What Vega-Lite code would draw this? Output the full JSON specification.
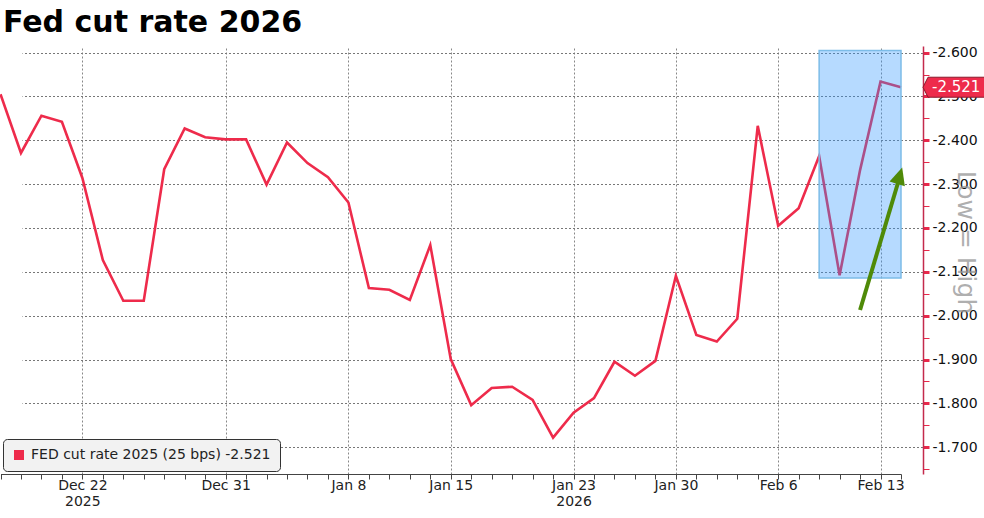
{
  "$schema": "https://vega.github.io/schema/vega-lite/v6.json",
  "width": 923,
  "height": 428,
  "autosize": {"type": "none"},
  "padding": {"left": 0, "top": 46, "right": 61, "bottom": 44},
  "background": "white",
  "title": {
    "text": "Fed cut rate 2026",
    "anchor": "start",
    "frame": "group",
    "font": "DejaVu Sans",
    "fontSize": 30,
    "fontWeight": "bold",
    "color": "#000000",
    "baseline": "alphabetic",
    "offset": 14,
    "dx": 3,
    "dy": 30
  },
  "datasets": {
    "main": [
      {"date": "2025-12-16", "value": -2.505},
      {"date": "2025-12-17", "value": -2.371},
      {"date": "2025-12-18", "value": -2.456},
      {"date": "2025-12-19", "value": -2.442},
      {"date": "2025-12-22", "value": -2.314},
      {"date": "2025-12-23", "value": -2.127},
      {"date": "2025-12-24", "value": -2.034},
      {"date": "2025-12-25", "value": -2.034},
      {"date": "2025-12-26", "value": -2.334},
      {"date": "2025-12-29", "value": -2.427},
      {"date": "2025-12-30", "value": -2.407},
      {"date": "2025-12-31", "value": -2.402},
      {"date": "2026-01-01", "value": -2.402},
      {"date": "2026-01-02", "value": -2.299},
      {"date": "2026-01-05", "value": -2.395},
      {"date": "2026-01-06", "value": -2.348},
      {"date": "2026-01-07", "value": -2.316},
      {"date": "2026-01-08", "value": -2.258},
      {"date": "2026-01-09", "value": -2.063},
      {"date": "2026-01-12", "value": -2.059},
      {"date": "2026-01-13", "value": -2.036},
      {"date": "2026-01-14", "value": -2.161},
      {"date": "2026-01-15", "value": -1.901},
      {"date": "2026-01-16", "value": -1.796},
      {"date": "2026-01-19", "value": -1.835},
      {"date": "2026-01-20", "value": -1.838},
      {"date": "2026-01-21", "value": -1.808},
      {"date": "2026-01-22", "value": -1.722},
      {"date": "2026-01-23", "value": -1.779},
      {"date": "2026-01-26", "value": -1.812},
      {"date": "2026-01-27", "value": -1.895},
      {"date": "2026-01-28", "value": -1.863},
      {"date": "2026-01-29", "value": -1.897},
      {"date": "2026-01-30", "value": -2.091},
      {"date": "2026-02-02", "value": -1.956},
      {"date": "2026-02-03", "value": -1.941},
      {"date": "2026-02-04", "value": -1.993},
      {"date": "2026-02-05", "value": -2.433},
      {"date": "2026-02-06", "value": -2.205},
      {"date": "2026-02-09", "value": -2.245},
      {"date": "2026-02-10", "value": -2.364},
      {"date": "2026-02-11", "value": -2.092},
      {"date": "2026-02-12", "value": -2.332},
      {"date": "2026-02-13", "value": -2.534},
      {"date": "2026-02-16", "value": -2.521}
    ],
    "box": [
      {"date": "2026-02-10", "date2": "2026-02-16", "value": -2.605, "value2": -2.086}
    ],
    "arrow": [
      {"date": "2026-02-12", "date2": "2026-02-16", "value": -2.013, "value2": -2.326}
    ],
    "tip": [
      {"date": "2026-02-16", "value": -2.329}
    ],
    "last": [
      {"date": "2026-02-16", "value": -2.521, "label": "-2.521"}
    ]
  },
  "encoding": {
    "x": {
      "field": "date",
      "type": "ordinal",
      "scale": {"type": "point", "range": [0.5, 901], "padding": 0},
      "axis": {
        "title": null,
        "orient": "bottom",
        "labelAngle": 0,
        "labelOverlap": false,
        "labelFont": "DejaVu Sans",
        "labelFontSize": 14,
        "labelColor": "#222222",
        "labelPadding": -1,
        "labelLineHeight": 16,
        "labelBaseline": "top",
        "labelExpr": "datum.value == '2025-12-22' ? ['Dec 22', '2025'] : datum.value == '2026-01-23' ? ['Jan 23', '2026'] : indexof(['2025-12-31','2026-01-08','2026-01-15','2026-01-30','2026-02-06','2026-02-13'], datum.value) >= 0 ? utcFormat(toDate(datum.value), '%b %-d') : ''",
        "domainColor": "#444444",
        "domainWidth": 1,
        "tickColor": "#444444",
        "tickSize": 5,
        "grid": true,
        "gridColor": "#888888",
        "gridDash": [2, 2],
        "gridWidth": 1,
        "gridOpacity": {
          "condition": {
            "test": "indexof(['2025-12-22','2025-12-31','2026-01-08','2026-01-15','2026-01-23','2026-01-30','2026-02-06','2026-02-13'], datum.value) >= 0",
            "value": 1
          },
          "value": 0
        }
      }
    },
    "y": {
      "field": "value",
      "type": "quantitative",
      "scale": {"domain": [-2.615, -1.639], "reverse": true, "nice": false, "zero": false},
      "axis": {
        "orient": "right",
        "zindex": 0,
        "title": "Low = High",
        "titleFont": "DejaVu Sans",
        "titleFontSize": 25,
        "titleFontWeight": "normal",
        "titleColor": "#999999",
        "titleOpacity": 0.8,
        "titleAngle": 90,
        "titleX": 42,
        "titleY": 196,
        "titleAlign": "center",
        "titleBaseline": "middle",
        "values": [-2.6, -2.55, -2.5, -2.45, -2.4, -2.35, -2.3, -2.25, -2.2, -2.15, -2.1, -2.05, -2.0, -1.95, -1.9, -1.85, -1.8, -1.75, -1.7, -1.65],
        "labelExpr": "abs(round(datum.value * 20)) % 2 == 0 ? replace(format(datum.value, '.3f'), '\u2212', '-') : ''",
        "labelFont": "DejaVu Sans",
        "labelFontSize": 14,
        "labelColor": "#111111",
        "labelPadding": 3,
        "labelOverlap": false,
        "domainColor": "#c42a4c",
        "domainWidth": 1.5,
        "tickColor": "#e8284a",
        "tickSize": 6,
        "tickWidth": {
          "condition": {"test": "abs(round(datum.value * 20)) % 2 == 0", "value": 3},
          "value": 1
        },
        "grid": true,
        "gridColor": "#777777",
        "gridDash": [2, 2],
        "gridWidth": 1,
        "gridOpacity": {
          "condition": {"test": "abs(round(datum.value * 20)) % 2 == 0", "value": 1},
          "value": 0
        }
      }
    }
  },
  "layer": [
    {
      "data": {"name": "main"},
      "mark": {"type": "line", "strokeWidth": 2.6, "interpolate": "linear"},
      "encoding": {
        "color": {
          "datum": "FED cut rate 2025 (25 bps) -2.521",
          "type": "nominal",
          "scale": {"range": ["#ee2b4b"]},
          "legend": {
            "title": null,
            "orient": "bottom-left",
            "offset": 3,
            "symbolType": "square",
            "symbolSize": 100,
            "symbolFillColor": "#ee2b4b",
            "symbolStrokeColor": "#ee2b4b",
            "symbolStrokeWidth": 0,
            "symbolOpacity": 1,
            "labelFont": "DejaVu Sans",
            "labelFontSize": 14,
            "labelColor": "#222222",
            "labelOffset": 5,
            "labelLimit": 400,
            "fillColor": "#f2f2f2",
            "strokeColor": "#333333",
            "cornerRadius": 4,
            "padding": 9
          }
        }
      }
    },
    {
      "data": {"name": "box"},
      "mark": {"type": "rect", "fill": "#2e96ff", "fillOpacity": 0.35, "stroke": "#7cbce8", "strokeWidth": 1.5},
      "encoding": {
        "x2": {"field": "date2"},
        "y2": {"field": "value2"}
      }
    },
    {
      "data": {"name": "arrow"},
      "mark": {"type": "rule", "color": "#4f8a08", "strokeWidth": 4, "strokeCap": "butt"},
      "encoding": {
        "x2": {"field": "date2"},
        "y2": {"field": "value2"}
      }
    },
    {
      "data": {"name": "tip"},
      "mark": {"type": "point", "shape": "M0,-4 L-8,13 L8,13 Z", "size": 4, "filled": true, "fill": "#4f8a08", "opacity": 1, "angle": 17},
      "encoding": {}
    },
    {
      "data": {"name": "last"},
      "mark": {"type": "point", "shape": "M22,0 L27,-10 L84,-10 L84,10 L27,10 Z", "size": 4, "filled": true, "fill": "#ee2b4b", "stroke": "#8a1a2c", "strokeWidth": 1, "opacity": 1},
      "encoding": {}
    },
    {
      "data": {"name": "last"},
      "mark": {"type": "text", "color": "white", "font": "DejaVu Sans", "fontSize": 15, "align": "left", "baseline": "middle", "dx": 31},
      "encoding": {"text": {"field": "label"}}
    }
  ],
  "config": {
    "view": {"stroke": null}
  }
}
